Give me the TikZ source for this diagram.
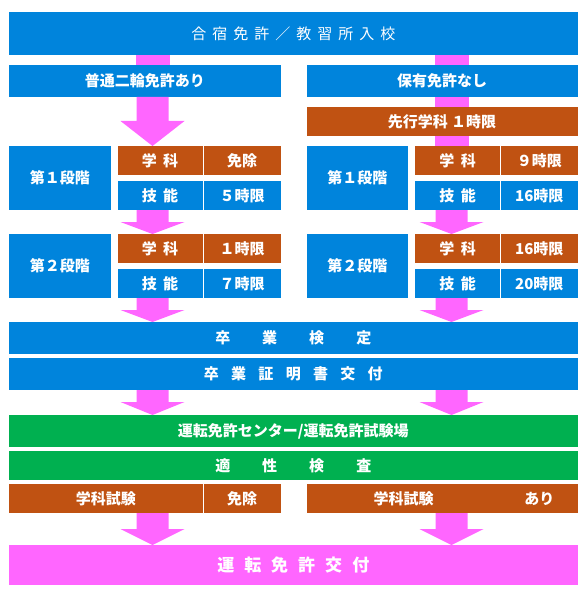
\documentclass[tikz,border=0pt]{standalone}
\usepackage{fontspec}
\setmainfont{Noto Sans CJK JP}
\usetikzlibrary{calc}
\definecolor{boxblue}{RGB}{0,132,220}
\definecolor{boxbrown}{RGB}{192,82,18}
\definecolor{boxgreen}{RGB}{0,176,80}
\definecolor{flowpink}{RGB}{255,102,255}
% letter spaced text
\newcommand\spaced[2]{\def\spgap{\hspace{#1}}\spacedfirst#2\relax}
\def\spacedfirst#1{#1\spacednext}
\def\spacednext#1{\ifx#1\relax\else\spgap#1\expandafter\spacednext\fi}
% pink flow arrows: start, tip, head length
\newcommand\flowarrow[3]{\fill[flowpink] ($(#1)+(-16,0)$) -- ($(#2)+(-16,-#3)$) -- ($(#2)+(-32,-#3)$) -- (#2) -- ($(#2)+(32,-#3)$) -- ($(#2)+(16,-#3)$) -- ($(#1)+(16,0)$) -- cycle;}
\newcommand\flowbar[2]{\fill[flowpink] ($(#1)+(-17,0)$) rectangle ($(#2)+(17,0)$);}
\begin{document}
\begin{tikzpicture}[x=1pt, y=-1pt,
	cell/.style={fill=#1, text=white, inner sep=0pt, outer sep=0pt, anchor=north west, font=\bfseries\fontsize{15}{18}\selectfont},
	wh/.style 2 args={minimum width=#1, minimum height=#2}]
	\useasboundingbox (0,0) rectangle (586,596);
	\path
	(152.5,0) coordinate (colL)
	(451.5,0) coordinate (colR)
	;
	\node[cell=boxblue, wh={568.5}{43}, font=\fontsize{15}{18}\selectfont] (entry) at (9,12) {\spaced{6pt}{合宿免許／教習所入校}};
	\node[cell=boxblue, wh={271.5}{32}] (haveL) at (9,65) {普通二輪免許あり};
	\node[cell=boxblue, wh={271}{32}] (noneR) at (306.5,65) {保有免許なし};
	\node[cell=boxbrown, wh={271}{29}] (pre) at (306.5,107) {先行学科 １時限};
	% stages
	\foreach \s/\y/\n in {1/146/１, 2/234/２} {
		\node[cell=boxblue, wh={101.5}{64}] (stage\s L) at (9,\y) {第\n 段階};
		\node[cell=boxblue, wh={101.5}{64}] (stage\s R) at (306.5,\y) {第\n 段階};
		\node[cell=boxbrown, wh={85}{29}] (subj\s L) at (117.5,\y) {\spaced{6.5pt}{学科}};
		\node[cell=boxbrown, wh={85}{29}] (subj\s R) at (415,\y) {\spaced{6.5pt}{学科}};
		\node[cell=boxblue, wh={85}{29}] (skill\s L) at (117.5,\y+35) {\spaced{6.5pt}{技能}};
		\node[cell=boxblue, wh={85}{29}] (skill\s R) at (415,\y+35) {\spaced{6.5pt}{技能}};
	}
	\node[cell=boxbrown, wh={77}{29}] (subj1Lv) at (203.5,146) {免除};
	\node[cell=boxblue, wh={77}{29}] (skill1Lv) at (203.5,181) {５時限};
	\node[cell=boxbrown, wh={77}{29}] (subj2Lv) at (203.5,234) {１時限};
	\node[cell=boxblue, wh={77}{29}] (skill2Lv) at (203.5,269) {７時限};
	\node[cell=boxbrown, wh={76.5}{29}] (subj1Rv) at (501,146) {９時限};
	\node[cell=boxblue, wh={76.5}{29}] (skill1Rv) at (501,181) {16時限};
	\node[cell=boxbrown, wh={76.5}{29}] (subj2Rv) at (501,234) {16時限};
	\node[cell=boxblue, wh={76.5}{29}] (skill2Rv) at (501,269) {20時限};
	% common steps
	\node[cell=boxblue, wh={568.5}{32}] (grad) at (9,322) {\spaced{32pt}{卒業検定}};
	\node[cell=boxblue, wh={568.5}{32}] (cert) at (9,358) {\spaced{12.3pt}{卒業証明書交付}};
	\node[cell=boxgreen, wh={568.5}{32}] (center) at (9,415) {運転免許センター/運転免許試験場};
	\node[cell=boxgreen, wh={568.5}{29}] (apt) at (9,451) {\spaced{32pt}{適性検査}};
	\node[cell=boxbrown, wh={193.5}{29}] (testL) at (9,484) {学科試験};
	\node[cell=boxbrown, wh={77}{29}] (testLv) at (203.5,484) {免除};
	\node[cell=boxbrown, wh={194}{29}] (testR) at (306.5,484) {学科試験};
	\node[cell=boxbrown, wh={76.5}{29}] (testRv) at (501,484) {あり};
	\node[cell=flowpink, wh={568.5}{40}, font=\bfseries\fontsize{17}{20}\selectfont] (issue) at (9,545) {\spaced{10pt}{運転免許交付}};
	% connectors
	\flowbar{colL |- entry.south}{colL |- haveL.north}
	\flowbar{colR |- entry.south}{colR |- noneR.north}
	\flowbar{colR |- noneR.south}{colR |- pre.north}
	\flowbar{colR |- pre.south}{colR |- subj1R.north}
	\flowarrow{colL |- haveL.south}{colL |- subj1L.north}{25}
	\foreach \c in {L,R} {
		\flowarrow{col\c |- skill1\c.south}{col\c |- subj2\c.north}{12}
		\flowarrow{col\c |- skill2\c.south}{col\c |- grad.north}{12}
		\flowarrow{col\c |- cert.south}{col\c |- center.north}{13}
		\flowarrow{col\c |- test\c.south}{col\c |- issue.north}{16}
	}
\end{tikzpicture}
\end{document}
